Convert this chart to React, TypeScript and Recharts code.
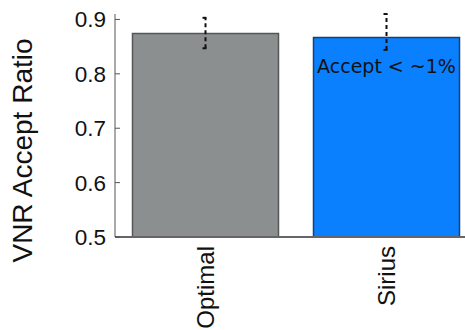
import React from "react";
import { BarChart, Bar, XAxis, YAxis, ErrorBar, LabelList, Cell } from "recharts";

const categories = ["Optimal", "Sirius"];
const ratios = [0.874, 0.867];
const errLow = [0.027, 0.023];
const errHigh = [0.029, 0.043];
const notes = ["", "Accept < ~1%"];
const barColors = ["#8c8f8f", "#0a80fe"];
const borderColors = ["#555757", "#1b3f6e"];
const yTicks = [0.5, 0.6, 0.7, 0.8, 0.9];

const data = categories.map((name, i) => ({
  name,
  ratio: ratios[i],
  err: [errLow[i], errHigh[i]],
  mid: 0,
  note: notes[i],
}));

const YTick = (props: any) => {
  const { x, y, payload } = props;
  return (
    <g>
      <line x1={x + 8} y1={y} x2={x + 13} y2={y} stroke="#555" strokeWidth={1} />
      <text x={x - 1} y={y} dy={8} textAnchor="end" fontFamily="Liberation Sans, Arial, sans-serif" fontSize={22.5} fill="#111">
        {payload.value.toFixed(1)}
      </text>
    </g>
  );
};

const XTick = (props: any) => {
  const { x, y, payload } = props;
  return (
    <text
      x={x}
      y={y + 1}
      transform={`rotate(-90, ${x}, ${y + 1})`}
      dy={8.5}
      textAnchor="end"
      fontFamily="Liberation Sans, Arial, sans-serif"
      fontSize={24}
      fill="#111"
    >
      {payload.value}
    </text>
  );
};

export default function App() {
  return (
    <div style={{ position: "absolute", left: 0, top: 0, width: 465, height: 330, overflow: "hidden", background: "#fff" }}>
      <BarChart
        width={480}
        height={330}
        data={data}
        margin={{ top: 14, right: 3, left: 0, bottom: 0 }}
        barCategoryGap={17.5}
      >
        <XAxis
          dataKey="name"
          height={93}
          tick={<XTick />}
          tickLine={false}
          axisLine={{ stroke: "#666", strokeWidth: 2 }}
          interval={0}
        />
        <XAxis
          xAxisId="top"
          dataKey="name"
          orientation="top"
          height={0}
          tick={false}
          tickLine={false}
          axisLine={{ stroke: "#666", strokeWidth: 1 }}
        />
        <YAxis
          width={115}
          domain={[0.5, 0.91]}
          ticks={yTicks}
          tick={<YTick />}
          tickLine={false}
          axisLine={{ stroke: "#555", strokeWidth: 1 }}
          allowDataOverflow
          label={{
            value: "VNR Accept Ratio",
            angle: -90,
            position: "insideLeft",
            dx: 17,
            dy: 25,
            style: { textAnchor: "middle", fontFamily: "Liberation Sans, Arial, sans-serif", fontSize: 28, fill: "#111" },
          }}
        />
        <Bar dataKey="ratio" isAnimationActive={false} strokeWidth={1.5}>
          {data.map((d, i) => (
            <Cell key={d.name} fill={barColors[i]} stroke={borderColors[i]} />
          ))}
          <ErrorBar dataKey="err" width={3} stroke="#111" strokeWidth={2} strokeDasharray="4 3" />
          <ErrorBar dataKey="mid" width={3} stroke="#111" strokeWidth={2} />
          <LabelList
            dataKey="note"
            position="insideTop"
            offset={22}
            style={{ fontFamily: "DejaVu Sans, sans-serif", fontSize: 19, fill: "#111" }}
          />
        </Bar>
      </BarChart>
    </div>
  );
}
